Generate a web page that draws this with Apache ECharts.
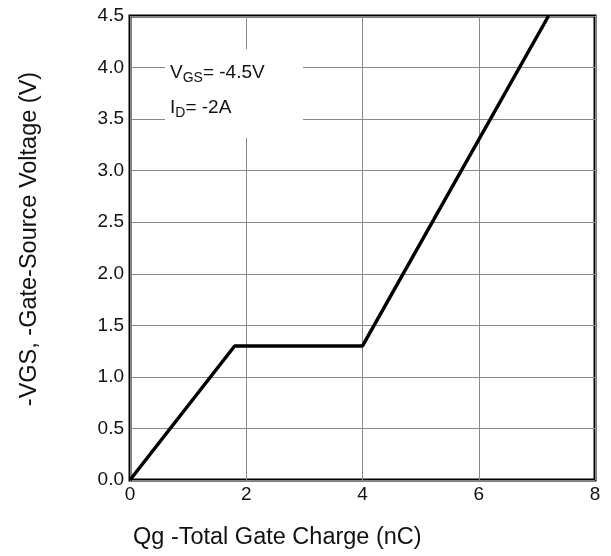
<!DOCTYPE html>
<html>
<head>
<meta charset="utf-8">
<title>Gate Charge</title>
<script src="https://cdn.jsdelivr.net/npm/echarts@6/dist/echarts.min.js"></script>
<style>
  html, body { margin: 0; padding: 0; background: #fff; }
  #chart { width: 611px; height: 556px; }
</style>
</head>
<body>
<div id="chart"></div>
<script>
// gate charge curve (Qg in nC, -VGS in V)
const qgCharge = [0, 1.8, 4.0, 7.2];
const vgsVoltage = [0, 1.3, 1.3, 4.5];

const xTicks = [0, 2, 4, 6, 8];
const yTicks = [0, 0.5, 1.0, 1.5, 2.0, 2.5, 3.0, 3.5, 4.0, 4.5];

const fontName = '"Liberation Sans", Arial, sans-serif';

const chart = echarts.init(document.getElementById('chart'));

chart.setOption({
  backgroundColor: '#fff',
  animation: false,
  grid: {
    left: 130,
    right: 16,
    top: 16,
    bottom: 76,
    show: true,
    borderColor: '#000',
    borderWidth: 3
  },
  xAxis: {
    type: 'value',
    min: xTicks[0],
    max: xTicks[xTicks.length - 1],
    interval: 2,
    axisLine: { show: false },
    axisTick: { show: false },
    axisLabel: { color: '#111', fontSize: 19, fontFamily: fontName, margin: 5 },
    splitLine: { lineStyle: { color: '#888', width: 1 } }
  },
  yAxis: {
    type: 'value',
    min: yTicks[0],
    max: yTicks[yTicks.length - 1],
    interval: 0.5,
    axisLine: { show: false },
    axisTick: { show: false },
    axisLabel: {
      color: '#111', fontSize: 19, fontFamily: fontName, margin: 6,
      formatter: v => v.toFixed(1)
    },
    splitLine: { lineStyle: { color: '#888', width: 1 } }
  },
  series: [{
    type: 'line',
    data: qgCharge.map((q, i) => [q, vgsVoltage[i]]),
    symbol: 'none',
    lineStyle: { color: '#000', width: 3.5 },
    z: 3
  }],
  graphic: [
    {
      // white box behind the test conditions
      type: 'rect',
      shape: { x: 165, y: 49, width: 138, height: 89 },
      style: { fill: '#fff' },
      z: 10
    },
    {
      type: 'text',
      x: 170, y: 61,
      z: 11,
      style: {
        text: '{n|V}{s|GS}{n|= -4.5V}',
        fill: '#111',
        rich: {
          n: { fontSize: 19, fontFamily: fontName, lineHeight: 24, verticalAlign: 'middle' },
          s: { fontSize: 14, fontFamily: fontName, lineHeight: 14, verticalAlign: 'bottom' }
        }
      }
    },
    {
      type: 'text',
      x: 170, y: 96,
      z: 11,
      style: {
        text: '{n|I}{s|D}{n|= -2A}',
        fill: '#111',
        rich: {
          n: { fontSize: 19, fontFamily: fontName, lineHeight: 24, verticalAlign: 'middle' },
          s: { fontSize: 14, fontFamily: fontName, lineHeight: 14, verticalAlign: 'bottom' }
        }
      }
    },
    {
      type: 'text',
      x: 133, y: 538,
      style: {
        text: 'Qg -Total Gate Charge (nC)',
        fontSize: 23.5, fontFamily: fontName, fill: '#111',
        verticalAlign: 'middle'
      }
    },
    {
      type: 'text',
      x: 30, y: 239,
      rotation: Math.PI / 2,
      style: {
        text: '-VGS, -Gate-Source Voltage (V)',
        fontSize: 23.5, fontFamily: fontName, fill: '#111',
        align: 'center', verticalAlign: 'middle'
      }
    }
  ]
});
</script>
</body>
</html>
